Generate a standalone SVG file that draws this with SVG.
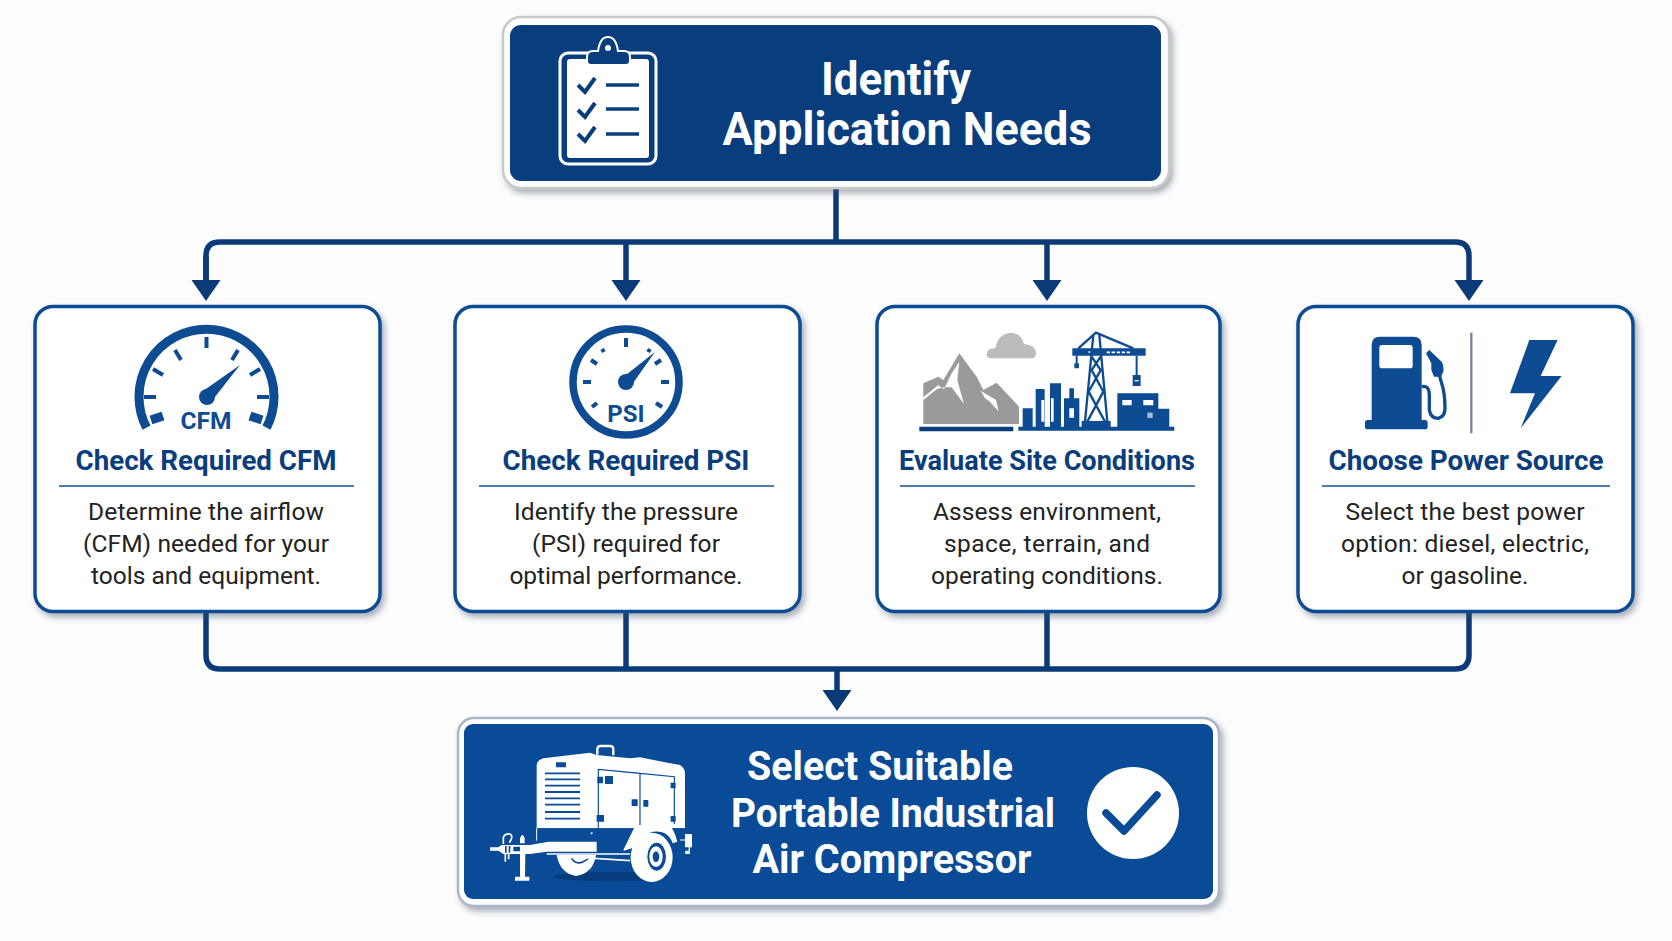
<svg xmlns="http://www.w3.org/2000/svg" width="1672" height="941" viewBox="0 0 1672 941">
<style>
text{font-family:Roboto,"Liberation Sans",sans-serif;text-anchor:middle}
.conn{fill:none;stroke:#0a3b78;stroke-width:5.5}
.card{fill:#fff;stroke:#0d4b92;stroke-width:3.5;filter:url(#sh)}
.title{font-size:27px;font-weight:700;fill:#0a3d7c}
.body{font-size:24.500px;fill:#222}
.div{stroke:#4d7bb0;stroke-width:2}
.head{font-weight:700;fill:#fff}
.gl{font-weight:700;font-size:24px;fill:#0d4b92}
.tick{stroke:#0d4b92;fill:none;stroke-linecap:butt}
.b{fill:#0d4b92}
.w{fill:#fff}
.k{fill:#0a4b98}
</style>
<defs>
<filter id="sh" x="-5%" y="-5%" width="112%" height="115%"><feDropShadow dx="3" dy="4" stdDeviation="3" flood-color="#3a4a60" flood-opacity=".45"/></filter>
<marker id="arr" markerUnits="userSpaceOnUse" markerWidth="22" markerHeight="30" refX="1" refY="15" orient="auto"><path d="M0 .5L21 15L0 29.500Z" fill="#0a3b78"/></marker>
</defs>
<rect width="1672" height="941" fill="#fdfdfd"/>

<g id="connectors">
<path class="conn" d="M836 189V242"/>
<path class="conn" d="M206 281V256Q206 242 220 242H1455Q1469 242 1469 256V281" marker-end="url(#arr)"/>
<path class="conn" d="M206 256V281" marker-end="url(#arr)"/>
<path class="conn" d="M626 242V281" marker-end="url(#arr)"/>
<path class="conn" d="M1047 242V281" marker-end="url(#arr)"/>
<path class="conn" d="M206 612V655Q206 669 220 669H1455Q1469 669 1469 655V612"/>
<path class="conn" d="M626 612V669M1047 612V669"/>
<path class="conn" d="M837 669V691" marker-end="url(#arr)"/>
</g>

<g id="node-identify">
<rect x="503" y="17" width="666" height="171" rx="18" fill="#fff" stroke="#c9c9c9" stroke-width="2.500" filter="url(#sh)"/>
<rect x="510" y="25" width="651" height="156" rx="11" fill="#083e7e"/>
<rect x="560" y="53" width="96" height="111" rx="8" fill="none" stroke="#fff" stroke-width="3"/>
<rect x="567" y="59" width="82" height="99" rx="3" fill="#fff"/>
<path d="M593 51H598Q600 37 608 37T618 51H624Q630 51 630 57V61Q630 65 626 65H591Q587 65 587 61V57Q587 51 593 51Z" fill="#083e7e" stroke="#fff" stroke-width="2"/>
<circle cx="608" cy="48" r="3" fill="#fff"/>
<path d="M578 85L585 92L595 78M578 110L585 117L595 103M578 134L585 141L595 127" fill="none" stroke="#083e7e" stroke-width="4"/>
<path d="M606 85H639M606 109H639M606 134H639" stroke="#083e7e" stroke-width="3.500"/>
<text class="head" x="896" y="95" font-size="46" textLength="150" lengthAdjust="spacingAndGlyphs">Identify</text>
<text class="head" x="907" y="145" font-size="46" textLength="369" lengthAdjust="spacingAndGlyphs">Application Needs</text>
</g>

<g id="node-cfm">
<rect class="card" x="35" y="306.500" width="345" height="305" rx="18"/>
<path d="M146.500 427.600A67.500 67.500 0 1 1 266.500 427.600" class="tick" stroke-width="9"/>
<g class="tick" stroke-width="4">
<path d="M206.500 337V348M175 350L181 360M238 350L232 360M153 369L163 375M260 369L250 375M144 397H156M269 397H257"/>
</g>
<path d="M151 420L163 416M262 420L250 416" class="tick" stroke-width="9"/>
<path d="M240 365L211 402L203 391Z" class="b"/>
<circle cx="207" cy="397" r="8" class="b"/>
<text class="gl" x="206" y="428.500" textLength="51" lengthAdjust="spacingAndGlyphs">CFM</text>
<text class="title" x="206" y="470" textLength="261" lengthAdjust="spacingAndGlyphs">Check Required CFM</text>
<path class="div" d="M59 486H354"/>
<text class="body" x="206" y="520" textLength="236">Determine the airflow</text>
<text class="body" x="206" y="552" textLength="246">(CFM) needed for your</text>
<text class="body" x="206" y="584" textLength="230">tools and equipment.</text>
</g>

<g id="node-psi">
<rect class="card" x="455" y="306.500" width="345" height="305" rx="18"/>
<circle cx="626" cy="382" r="53" class="tick" stroke-width="7.500"/>
<g class="tick" stroke-width="4">
<path d="M626 338V347M583 382H591M661 382H669M591 360L597 364M661 360L655 364M592 407L597 403M662 407L656 403M602 349L604 352M650 349L648 352"/>
</g>
<path d="M655 352L631 386L622 378Z" class="b"/>
<circle cx="626" cy="382" r="8" class="b"/>
<text class="gl" x="626" y="421.500">PSI</text>
<text class="title" x="626" y="470" textLength="247" lengthAdjust="spacingAndGlyphs">Check Required PSI</text>
<path class="div" d="M479 486H774"/>
<text class="body" x="626" y="520" textLength="224">Identify the pressure</text>
<text class="body" x="626" y="552" textLength="188">(PSI) required for</text>
<text class="body" x="626" y="584" textLength="233">optimal performance.</text>
</g>

<g id="node-site">
<rect class="card" x="877" y="306.500" width="343" height="305" rx="18"/>
<g transform="translate(870 300) scale(.3333)">
<path d="M160 372V250L205 230L220 240L268 160L320 230L340 270L380 248L447 320V372Z" fill="#9a9a9a"/>
<path d="M160 292L205 255L222 268L245 220L268 185L262 240L282 312L245 262L222 262L200 268L160 300ZM332 272L378 300L386 334L358 304L345 295Z" fill="#fff"/>
<path d="M148 380H430V394H148Z" fill="#0a3d7c"/>
<path d="M350 162Q350 145 376 145Q385 100 423 98Q455 100 462 132Q498 135 498 160Q498 175 486 175H364Q350 175 350 162Z" fill="#bcbcbc"/>
</g>
<g transform="translate(1010 320) scale(.3333)">
<path class="b" d="M25 320H493V332H25ZM38 265H68V320H38ZM77 207H104V320H77ZM120 190H153V320H120ZM162 235H178V205H192V235H208V320H162ZM322 220H445V266H478V320H322ZM215 303H302V323H215ZM187 85H407V107H187Z"/>
<path d="M94 240H103V305H94ZM123 235H131V305H123ZM178 265H192V293H178ZM337 240H365V256H337ZM400 240H430V256H400Z" fill="#fff"/>
<rect x="412" y="278" width="16" height="16" fill="#a8bcd8"/>
<path d="M235 96H241M290 97H360" stroke="#fff" stroke-width="5" stroke-dasharray="10 5"/>
<path d="M250 45L225 305M268 45L292 305M205 85L258 38L370 85M245 110L272 150L236 215L285 305M272 110L245 150L280 215L232 305" fill="none" stroke="#0d4b92" stroke-width="7"/>
<path d="M200 107V132M380 107V166" stroke="#0d4b92" stroke-width="6"/>
<path class="b" d="M193 130H207V145H193ZM368 165H392V198H368Z"/>
<path d="M374 180H386V184H374Z" fill="#fff"/>
</g>
<text class="title" x="1047" y="470" textLength="296" lengthAdjust="spacingAndGlyphs">Evaluate Site Conditions</text>
<path class="div" d="M900 486H1195"/>
<text class="body" x="1047" y="520" textLength="228">Assess environment,</text>
<text class="body" x="1047" y="552" textLength="206">space, terrain, and</text>
<text class="body" x="1047" y="584" textLength="232">operating conditions.</text>
</g>

<g id="node-power">
<rect class="card" x="1298" y="306.500" width="335" height="305" rx="18"/>
<g transform="translate(1360 330) scale(.3333)">
<path class="b" d="M35 272V45Q35 20 60 20H160Q185 20 185 45V272ZM15 278Q15 270 23 270H195Q203 270 203 278V290Q203 298 195 298H23Q15 298 15 290Z"/>
<rect x="58" y="45" width="100" height="70" rx="8" fill="#fff"/>
<path class="b" d="M198 70L208 60L245 95Q252 105 250 125L243 140H222L214 120V100Z"/>
<path d="M185 170Q208 165 208 195V240Q212 265 235 265Q255 260 255 235Q255 190 245 160L238 135" fill="none" stroke="#0d4b92" stroke-width="10"/>
</g>
<g transform="translate(1290 300) scale(.3333)">
<path d="M544 98V400" stroke="#76859a" stroke-width="7"/>
<path class="b" d="M718 120H803L752 228H815L692 385L735 280H660Z"/>
</g>
<text class="title" x="1466" y="470" textLength="275" lengthAdjust="spacingAndGlyphs">Choose Power Source</text>
<path class="div" d="M1322 486H1610"/>
<text class="body" x="1465" y="520" textLength="239">Select the best power</text>
<text class="body" x="1465" y="552" textLength="248">option: diesel, electric,</text>
<text class="body" x="1465" y="584" textLength="127">or gasoline.</text>
</g>

<g id="node-select">
<rect x="458" y="718" width="761" height="188" rx="16" fill="#fff" stroke="#a9b6c6" stroke-width="2.500" filter="url(#sh)"/>
<rect x="464" y="724" width="749" height="175" rx="9" class="k"/>
<g transform="translate(490 730) scale(.3333)">
<ellipse cx="360" cy="440" rx="170" ry="14" fill="#083d7d"/>
<path class="w" d="M140 295V105Q142 90 160 85L300 68L320 75L420 85L450 82L525 97L570 105Q585 115 585 130V295Z"/>
<path d="M322 74V58Q322 48 332 48H360Q370 48 370 58V76" fill="none" stroke="#fff" stroke-width="7"/>
<path d="M165 130H270M165 148H270M165 167H270M165 186H270M165 205H270M165 224H270M165 246H270M165 266H270" stroke="#0a4b98" stroke-width="5.500"/>
<path d="M325 295V118L450 130V285M450 130L553 140V282" fill="none" stroke="#0a4b98" stroke-width="3.500"/>
<path class="k" d="M198 97H228V112H198ZM322 140H339V160H322ZM345 138H369V162H345ZM425 208H443V228H425ZM460 210H475V230H460ZM320 255H342V275H320ZM542 158H557V175H542ZM542 258H557V275H542Z"/>
<path class="k" d="M145 295H585V330H480L425 340L400 360H322V335H175L145 330Z"/>
<path d="M140 295V332M570 330H585" stroke="#fff" stroke-width="3"/>
<circle cx="305" cy="310" r="3" fill="#fff"/>
<path class="w" d="M0 352H25L35 345H120L175 335H320V365H170L120 372H40L25 362H0Z"/>
<path class="k" d="M70 350H90V364H70ZM45 348H50V368H45ZM56 348H61V368H56Z"/>
<path d="M40 342V322Q45 310 60 312Q72 318 58 338M46 372V395M56 372V388" fill="none" stroke="#fff" stroke-width="5"/>
<path class="w" d="M90 340V325Q97 305 104 325V340ZM90 372H106L105 440H118V452H75V440H90Z"/>
<path class="w" d="M200 375H318Q310 430 258 438Q210 430 200 375Z"/>
<path d="M245 385Q262 412 295 385" fill="none" stroke="#0a4b98" stroke-width="5"/>
<path d="M170 372H420M250 381L420 392" stroke="#fff" stroke-width="5"/>
<path class="w" d="M400 360L432 295Q440 285 460 285H535Q550 290 562 335L548 340Q535 300 490 305Q445 315 440 350L402 362Z"/>
<ellipse cx="485" cy="382" rx="63" ry="74" class="w"/>
<ellipse cx="500" cy="380" rx="28" ry="42" class="k"/>
<ellipse cx="498" cy="380" rx="20" ry="31" fill="#fff"/>
<ellipse cx="498" cy="380" rx="10" ry="16" class="k"/>
<path d="M585 312H606V352H600V372H586V362H596V352H585Z" class="w"/>
</g>
<text class="head" x="880" y="780" font-size="41" textLength="266" lengthAdjust="spacingAndGlyphs">Select Suitable</text>
<text class="head" x="893" y="827" font-size="41" textLength="324" lengthAdjust="spacingAndGlyphs">Portable Industrial</text>
<text class="head" x="892" y="873" font-size="41" textLength="279" lengthAdjust="spacingAndGlyphs">Air Compressor</text>
<circle cx="1133" cy="813" r="46" fill="#fff"/>
<path d="M1106 813L1124 831L1157 795" fill="none" stroke="#0a4b98" stroke-width="7.500" stroke-linecap="round" stroke-linejoin="round"/>
</g>
</svg>
